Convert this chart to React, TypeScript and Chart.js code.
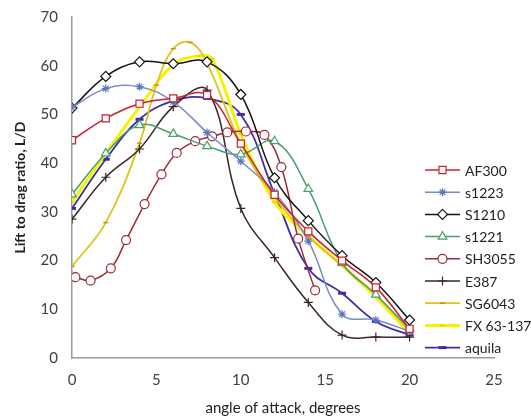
import React, { useEffect, useRef } from "react";
import { Chart, registerables } from "chart.js";
import { drawPoint } from "chart.js/helpers";

Chart.register(...registerables);

// ---- data (angle of attack in degrees, L/D) ----
const evenAngles = [0, 2, 4, 6, 8, 10, 12, 14, 16, 18, 20];

const af300 = [44.7, 49.2, 52.2, 53.3, 54.0, 44.0, 33.5, 26.0, 20.0, 14.5, 6.0];
const s1223 = [51.5, 55.3, 55.7, 52.6, 46.3, 40.4, 34.0, 24.0, 9.0, 7.8, 5.5];
const s1210 = [51.3, 57.8, 60.8, 60.4, 60.8, 54.1, 37.0, 28.2, 21.0, 15.5, 7.8];
const s1221 = [33.6, 42.0, 47.8, 46.0, 43.5, 41.8, 44.5, 34.7, 19.5, 13.0, 6.0];
const e387 = [28.5, 37.1, 42.9, 51.6, 55.0, 30.7, 20.6, 11.4, 4.7, 4.3, 4.3];
const aquila = [30.7, 40.8, 49.0, 52.8, 53.3, 50.0, 33.7, 18.4, 13.3, 7.5, 4.7];

const sh3055Angles = [0.2, 1.1, 2.3, 3.2, 4.3, 5.3, 6.2, 7.3, 8.3, 9.2, 10.3, 11.4, 12.4, 13.4, 14.4];
const sh3055 = [16.6, 15.9, 18.4, 24.2, 31.6, 37.7, 42.1, 44.5, 45.5, 46.3, 46.5, 45.8, 39.2, 24.5, 13.9];

const sg6043Angles = [0, 2, 4, 5, 6, 7, 8, 10, 12, 14, 16, 18, 20];
const sg6043 = [18.8, 27.8, 44.1, 56.0, 63.5, 64.8, 60.5, 44.0, 33.0, 25.0, 19.0, 13.0, 5.5];

const fxAngles = [0, 2, 4, 6, 7.5, 8.3, 10, 12, 14, 16, 18, 20];
const fx63137 = [32.0, 42.0, 51.5, 60.2, 62.0, 61.4, 46.0, 32.0, 25.0, 19.0, 12.5, 5.0];

const seriesNames = ["AF300", "s1223", "S1210", "s1221", "SH3055", "E387", "SG6043", "FX 63-137", "aquila"];

const xTicks = [0, 5, 10, 15, 20, 25];
const yTicks = [0, 10, 20, 30, 40, 50, 60, 70];

const FONT = "Lato, 'Open Sans', sans-serif";

function pts(xs: number[], ys: number[]) {
  return xs.map((x, i) => ({ x, y: ys[i] }));
}

const legendPlugin = {
  id: "customLegend",
  afterDraw(chart: any) {
    const ctx = chart.ctx;
    ctx.save();
    chart.data.datasets.forEach((ds: any, i: number) => {
      const y = 170 + i * 22.2;
      ctx.strokeStyle = ds.borderColor;
      ctx.lineWidth = ds.borderWidth;
      ctx.beginPath();
      ctx.moveTo(425, y);
      ctx.lineTo(460, y);
      ctx.stroke();
      ctx.fillStyle = ds.pointBackgroundColor;
      ctx.strokeStyle = ds.pointBorderColor;
      ctx.lineWidth = ds.pointBorderWidth;
      drawPoint(ctx, { pointStyle: ds.pointStyle, radius: ds.pointRadius, rotation: 0, borderWidth: ds.pointBorderWidth }, 442.5, y);
      ctx.fillStyle = "#222";
      ctx.font = "14px " + FONT;
      ctx.textBaseline = "middle";
      ctx.textAlign = "left";
      ctx.fillText(ds.label, 465, y + 1);
    });
    ctx.restore();
  },
};

function ds(label: string, data: any[], color: string, style: any, opts: any = {}) {
  return {
    label,
    data,
    borderColor: color,
    backgroundColor: color,
    borderWidth: 1.5,
    tension: 0.4,
    pointStyle: style,
    pointRadius: 4.5,
    pointBackgroundColor: "#ffffff",
    pointBorderColor: color,
    pointBorderWidth: 1.2,
    ...opts,
  };
}

export default function App() {
  const ref = useRef<HTMLCanvasElement>(null);
  useEffect(() => {
    if (!ref.current) return;
    const chart = new Chart(ref.current, {
      type: "line",
      data: {
        datasets: [
          ds(seriesNames[0], pts(evenAngles, af300), "#c8202c", "rect", { pointRadius: 5 }),
          ds(seriesNames[1], pts(evenAngles, s1223), "#7a8cc6", "star", { pointRadius: 4, pointBorderColor: "#5a74c0" }),
          ds(seriesNames[2], pts(evenAngles, s1210), "#141414", "rectRot", { pointRadius: 5 }),
          ds(seriesNames[3], pts(evenAngles, s1221), "#4a9e70", "triangle", { pointRadius: 5 }),
          ds(seriesNames[4], pts(sh3055Angles, sh3055), "#9c2a38", "circle", { pointRadius: 4.5 }),
          ds(seriesNames[5], pts(evenAngles, e387), "#3a2626", "cross", { pointRadius: 4.5, pointBorderWidth: 1.2 }),
          ds(seriesNames[6], pts(sg6043Angles, sg6043), "#e0c21a", "line", { pointRadius: 2.5, pointBorderColor: "#d08a20", pointBorderWidth: 1.5, borderWidth: 1.8 }),
          ds(seriesNames[7], pts(fxAngles, fx63137), "#f4f400", "line", { pointRadius: 2.5, pointBorderColor: "#d8d800", pointBorderWidth: 1.5, borderWidth: 3 }),
          ds(seriesNames[8], pts(evenAngles, aquila), "#3e2ea0", "line", { pointRadius: 4, pointBorderColor: "#3e2ea0", pointBorderWidth: 3, borderWidth: 1.8 }),
        ],
      },
      options: {
        responsive: false,
        animation: false,
        layout: { padding: { top: 17, right: 37, left: 0, bottom: 0 } },
        plugins: {
          legend: { display: false },
          tooltip: { enabled: false },
        },
        scales: {
          x: {
            type: "linear",
            min: 0,
            max: 25,
            afterBuildTicks: (s: any) => {
              s.ticks = xTicks.map((v) => ({ value: v }));
            },
            afterFit: (s: any) => {
              s.height = 61;
            },
            grid: { display: false },
            border: { display: true, color: "#9a9a9a", width: 1.5 },
            ticks: { color: "#404040", font: { family: FONT, size: 15 }, padding: 5 },
            title: {
              display: true,
              text: "angle of attack, degrees",
              color: "#222",
              font: { family: FONT, size: 15 },
              padding: { top: 0, bottom: 2 },
            },
          },
          y: {
            type: "linear",
            min: 0,
            max: 70,
            afterBuildTicks: (s: any) => {
              s.ticks = yTicks.map((v) => ({ value: v }));
            },
            afterFit: (s: any) => {
              s.width = 72;
            },
            grid: { display: false },
            border: { display: true, color: "#9a9a9a", width: 1.5 },
            ticks: { color: "#404040", font: { family: FONT, size: 15 }, padding: 6 },
            title: {
              display: true,
              text: "Lift to drag ratio, L/D",
              color: "#222",
              font: { family: FONT, size: 14, weight: "bold" },
              padding: { top: 12, bottom: 0 },
            },
          },
        },
      },
      plugins: [legendPlugin],
    });
    return () => chart.destroy();
  }, []);
  return (
    <div style={{ position: "absolute", left: 0, top: 0, width: 531, height: 419, background: "#fff" }}>
      <canvas ref={ref} width={531} height={419} />
    </div>
  );
}
